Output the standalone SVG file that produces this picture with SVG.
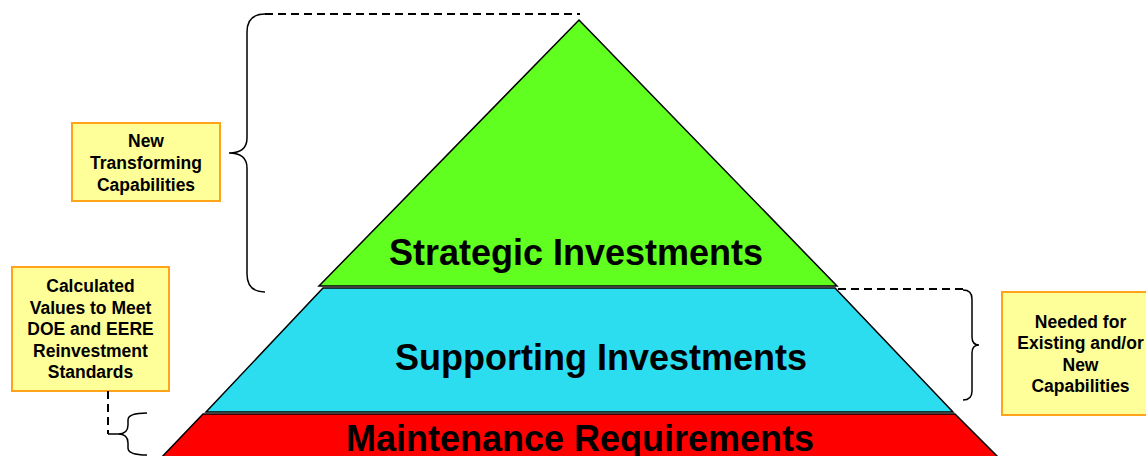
<svg xmlns="http://www.w3.org/2000/svg" width="1146" height="456" viewBox="0 0 1146 456">
  <style>
    .tier { stroke: #000; stroke-width: 1.5; stroke-linejoin: miter; }
    .tier-label { font-family: "Liberation Sans", Arial, sans-serif; font-weight: bold; font-size: 36px; fill: #000; text-anchor: middle; }
    .note { fill: #FFFF99; stroke: #FFA31A; stroke-width: 2; }
    .note-text { font-family: "Liberation Sans", Arial, sans-serif; font-weight: bold; font-size: 17.5px; fill: #000; text-anchor: middle; }
    .brace { fill: none; stroke: #000; stroke-width: 1.5; }
    .dash { fill: none; stroke: #000; stroke-width: 2; stroke-dasharray: 8 5; }
  </style>
  <rect width="1146" height="456" fill="#FFFFFF"/>

  <!-- pyramid tiers -->
  <g id="tier-maintenance">
    <polygon class="tier" fill="#FF0000" points="203,414 955,414 1001,460 159,460"/>
    <text class="tier-label" x="580" y="451">Maintenance Requirements</text>
  </g>
  <g id="tier-supporting">
    <polygon class="tier" fill="#2BDDEE" points="323,288 835,288 953,412 206,412"/>
    <text class="tier-label" x="601" y="370">Supporting Investments</text>
  </g>
  <g id="tier-strategic">
    <polygon class="tier" fill="#60FF20" points="579,20 837,286 319,286"/>
    <text class="tier-label" x="576" y="265">Strategic Investments</text>
  </g>

  <!-- annotation notes -->
  <g id="note-transforming">
    <rect class="note" x="72" y="123" width="148" height="78"/>
    <text class="note-text" x="146" y="147">New</text>
    <text class="note-text" x="146" y="169">Transforming</text>
    <text class="note-text" x="146" y="191">Capabilities</text>
  </g>
  <g id="note-calculated">
    <rect class="note" x="12" y="267" width="157" height="124"/>
    <text class="note-text" x="90.5" y="292">Calculated</text>
    <text class="note-text" x="90.5" y="313.5">Values to Meet</text>
    <text class="note-text" x="90.5" y="335">DOE and EERE</text>
    <text class="note-text" x="90.5" y="356.5">Reinvestment</text>
    <text class="note-text" x="90.5" y="378">Standards</text>
  </g>
  <g id="note-needed">
    <rect class="note" x="1002" y="292" width="160" height="123"/>
    <text class="note-text" x="1080.5" y="327.5">Needed for</text>
    <text class="note-text" x="1080.5" y="349">Existing and/or</text>
    <text class="note-text" x="1080.5" y="370.5">New</text>
    <text class="note-text" x="1080.5" y="392">Capabilities</text>
  </g>

  <!-- connectors: braces with dashed leaders -->
  <g id="connectors">
    <path class="dash" d="M265,14 H580"/>
    <path class="brace" d="M265,14 Q247,14 247,32 V138 Q247,153 229,153 Q247,153 247,168 V274 Q247,292 265,292"/>

    <path class="dash" d="M838,289 H963"/>
    <path class="brace" d="M963,290 Q972,290 972,299 V337 Q972,345 979,345 Q972,345 972,353 V391 Q972,400 963,400"/>

    <path class="dash" d="M108,391 V434"/>
    <path class="brace" d="M108,434 H118 Q128,434 128,425 V420 Q128,413 147,413 M118,434 Q128,434 128,443 V448 Q128,455 147,455"/>
  </g>
</svg>
